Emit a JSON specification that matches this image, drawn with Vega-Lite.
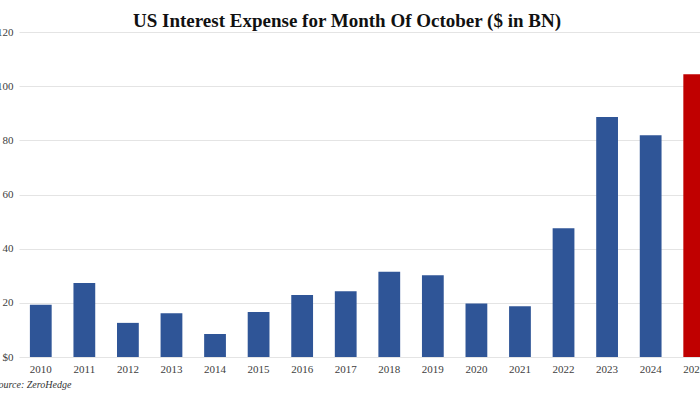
{
  "$schema": "https://vega.github.io/schema/vega-lite/v6.json",
  "autosize": "none",
  "padding": {"left": 19, "top": 32, "right": 0, "bottom": 37},
  "width": 697,
  "height": 325,
  "background": "white",
  "title": {
    "text": "US Interest Expense for Month Of October ($ in BN)",
    "font": "Liberation Serif",
    "fontSize": 19,
    "fontWeight": "bold",
    "color": "#111111",
    "anchor": "start",
    "dx": 140,
    "offset": -5
  },
  "data": {
    "values": [
      {"year": "2010", "value": 19.3, "type": "past"},
      {"year": "2011", "value": 27.3, "type": "past"},
      {"year": "2012", "value": 12.6, "type": "past"},
      {"year": "2013", "value": 16.2, "type": "past"},
      {"year": "2014", "value": 8.5, "type": "past"},
      {"year": "2015", "value": 16.6, "type": "past"},
      {"year": "2016", "value": 22.9, "type": "past"},
      {"year": "2017", "value": 24.3, "type": "past"},
      {"year": "2018", "value": 31.5, "type": "past"},
      {"year": "2019", "value": 30.2, "type": "past"},
      {"year": "2020", "value": 19.8, "type": "past"},
      {"year": "2021", "value": 18.7, "type": "past"},
      {"year": "2022", "value": 47.5, "type": "past"},
      {"year": "2023", "value": 88.6, "type": "past"},
      {"year": "2024", "value": 81.9, "type": "past"},
      {"year": "2025", "value": 104.4, "type": "current"}
    ]
  },
  "mark": {"type": "bar"},
  "encoding": {
    "x": {
      "field": "year",
      "type": "ordinal",
      "scale": {"paddingInner": 0.5, "paddingOuter": 0.25},
      "axis": {
        "labelAngle": 0,
        "domain": false,
        "ticks": false,
        "labelFont": "Liberation Serif",
        "labelFontSize": 11,
        "labelColor": "#404040",
        "labelPadding": 6,
        "title": "Source: ZeroHedge",
        "titleFont": "Liberation Serif",
        "titleFontStyle": "italic",
        "titleFontWeight": "normal",
        "titleFontSize": 10,
        "titleColor": "#333333",
        "titleAnchor": "start",
        "titleAlign": "left",
        "titleX": -26,
        "titleY": 22
      }
    },
    "y": {
      "field": "value",
      "type": "quantitative",
      "scale": {"domain": [0, 120]},
      "axis": {
        "values": [0, 20, 40, 60, 80, 100, 120],
        "labelExpr": "datum.value == 0 ? '$0' : datum.label",
        "domain": false,
        "ticks": false,
        "grid": true,
        "gridColor": "#e4e4e4",
        "gridWidth": 1,
        "labelFont": "Liberation Serif",
        "labelFontSize": 11,
        "labelColor": "#404040",
        "labelPadding": 6,
        "title": null
      }
    },
    "color": {
      "field": "type",
      "type": "nominal",
      "scale": {"domain": ["past", "current"], "range": ["#2f5597", "#c00000"]},
      "legend": null
    }
  },
  "config": {"view": {"stroke": null}}
}
